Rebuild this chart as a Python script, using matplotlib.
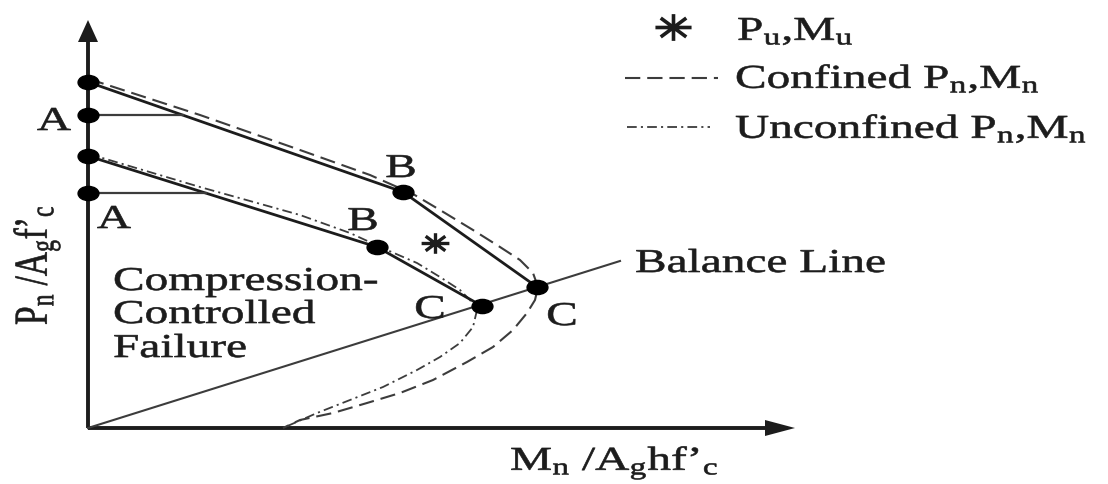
import numpy as np
import matplotlib
matplotlib.use('Agg')
import matplotlib.pyplot as plt
from matplotlib.path import Path
from matplotlib.patheffects import AbstractPathEffect
from matplotlib.transforms import Affine2D

plt.rcParams['font.family'] = ['Liberation Serif', 'DejaVu Serif']
plt.rcParams['mathtext.fontset'] = 'custom'
plt.rcParams['mathtext.rm'] = 'Liberation Serif'
plt.rcParams['mathtext.it'] = 'Liberation Serif:italic'
plt.rcParams['lines.scale_dashes'] = False

INK = '#1c1c1c'
GREY = '#3c3c3c'
FS = 24
STRETCH = 1.42  # the source figure is stretched sideways, letters included

# simplified diagrams: top of curve, B and C corners (C sits on the balance line)
conf_m = [0, 315, 449]
conf_p = [346, 236, 141]
conf_a = 313          # point A, capped axial load
unconf_m = [0, 289, 394]
unconf_p = [272, 181, 122]
unconf_a = 235

# full interaction curves
confined_m = [1, 112, 212, 282, 325, 352, 385, 412, 432, 445, 450, 447, 439,
              425, 405, 379, 345, 312, 279, 245, 212, 195]
confined_p = [349, 313, 278, 253, 234, 218, 198, 181, 168, 155, 141, 128, 115,
              98, 81, 66, 48, 35, 25, 15, 8, 0]
unconfined_m = [1, 112, 212, 262, 299, 329, 352, 372, 382, 389, 385, 372, 352,
                329, 295, 262, 229, 195]
unconfined_p = [274, 241, 213, 195, 178, 165, 151, 138, 128, 118, 101, 85, 71,
                58, 41, 28, 15, 0]

balance_m = [0, 532]
balance_p = [0, 167]

mu_m = [347]
mu_p = [185]


class Stretch(AbstractPathEffect):
    """Widen the glyphs of a text about its anchor point (and ink them a bit)."""

    def __init__(self, text, sx=STRETCH, weight=0.45):
        super().__init__()
        self.text = text
        self.sx = sx
        self.weight = weight

    def draw_path(self, renderer, gc, tpath, affine, rgbFace=None):
        x0 = self.text.get_transform().transform(self.text.get_position())[0]
        widen = Affine2D().translate(-x0, 0).scale(self.sx, 1).translate(x0, 0)
        gc0 = renderer.new_gc()
        gc0.copy_properties(gc)
        gc0.set_linewidth(self.weight)
        gc0.set_foreground(rgbFace)
        renderer.draw_path(gc0, tpath, affine + widen, rgbFace)
        gc0.restore()


def label(m, p, s, **kw):
    kw.setdefault('va', 'baseline')
    t = ax.text(m, p, s, fontsize=FS, color=INK, **kw)
    t.set_path_effects([Stretch(t)])
    return t


circle = Path.unit_circle()
dot = Path(circle.vertices * [1.0, 0.68], circle.codes)

arms = []
for a in np.deg2rad([0, 45, 90, 135]):
    arms += [(-1.35 * np.cos(a), -np.sin(a)), (1.35 * np.cos(a), np.sin(a))]
star = Path(arms, [Path.MOVETO, Path.LINETO] * 4)

fig = plt.figure(figsize=(11.08, 4.84), dpi=100)
ax = fig.add_axes([0, 0, 1, 1])
ax.set_xlim(-88, 1020)
ax.set_ylim(-56, 428)
ax.axis('off')

# axes with arrow heads
ax.plot([0, 0], [0, 388], color=INK, lw=2.8, solid_capstyle='butt')
ax.fill([-10, 10, 0], [386, 386, 408], color=INK, lw=0)
ax.plot([0, 680], [0, 0], color=INK, lw=2.8, solid_capstyle='butt')
ax.fill([677, 677, 707], [-8, 8, 0], color=INK, lw=0)

ax.plot(balance_m, balance_p, color=GREY, lw=1.5)

ax.plot(confined_m, confined_p, color=GREY, lw=1.5, dashes=(11, 5))
ax.plot(unconfined_m, unconfined_p, color=GREY, lw=1.3,
        dashes=(7, 3, 1.5, 3))

for ms, ps, pa in [(conf_m, conf_p, conf_a), (unconf_m, unconf_p, unconf_a)]:
    ax.plot(ms, ps, color=INK, lw=2.0)
    a_end = np.interp(pa, ps[1::-1], ms[1::-1])
    ax.plot([0, a_end], [pa, pa], color=GREY, lw=1.6)
    ax.plot([0, 0] + ms[1:], [ps[0], pa] + ps[1:], ls='none', marker=dot,
            ms=15, color='black')

ax.plot(mu_m, mu_p, ls='none', marker=star, ms=20, mew=2.4, mfc='none',
        color=INK)

# point labels
label(-34, 298, 'A', ha='center')
label(26, 200, 'A', ha='center')
label(313, 251, 'B', ha='center')
label(275, 198, 'B', ha='center')
label(342, 110, 'C', ha='center')
label(474, 103, 'C', ha='center')
label(547, 156, 'Balance Line', ha='left')
for p, s in zip([138, 105, 71], ['Compression-', 'Controlled', 'Failure']):
    label(25, p, s, ha='left')

# axis titles
label(422, -42, r'M$_\mathrm{n}$ /A$_\mathrm{g}$hf’$_\mathrm{c}$', ha='left')
label(-41, 163, r'P$_\mathrm{n}$ /A$_\mathrm{g}$f’$_\mathrm{c}$', ha='center',
      rotation=90, rotation_mode='anchor')

# key
ax.plot([585], [401], ls='none', marker=star, ms=26, mew=2.6, mfc='none',
        color=INK)
label(649, 388, r'P$_\mathrm{u}$,M$_\mathrm{u}$', ha='left')
ax.plot([537, 630], [350, 350], color=GREY, lw=1.5, dashes=(11, 5))
label(647, 340, r'Confined P$_\mathrm{n}$,M$_\mathrm{n}$', ha='left')
ax.plot([539, 622], [301, 301], color=GREY, lw=1.3, dashes=(7, 3, 1.5, 3))
label(647, 290, r'Unconfined P$_\mathrm{n}$,M$_\mathrm{n}$', ha='left')

fig.savefig('out.png', dpi=100)
